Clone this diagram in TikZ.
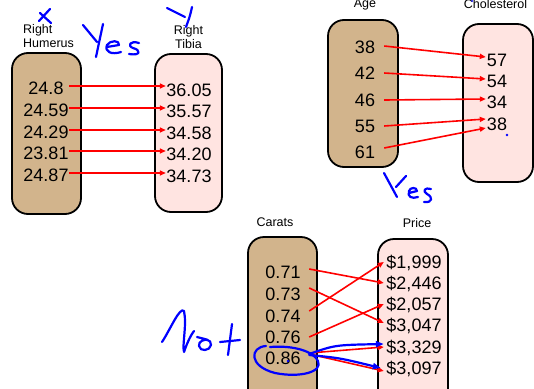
\documentclass[tikz,border=0pt]{standalone}
\usepackage{fontspec}
\setmainfont{Liberation Sans}
\usetikzlibrary{arrows.meta}
\definecolor{boxtan}{RGB}{210,180,140}
\definecolor{boxpink}{RGB}{255,228,225}
\definecolor{penblue}{RGB}{0,0,255}
\begin{document}
\begin{tikzpicture}[x=1pt,y=-1pt,
  setbox/.style={draw=black,line width=1.8pt,rounded corners=16pt,inner sep=0pt},
  val/.style={font=\fontsize{18}{20}\selectfont,inner sep=0pt,text height=13pt,text depth=0pt},
  lab/.style={font=\fontsize{12.5}{14}\selectfont,inner sep=0pt,align=center},
  link/.style={red,line width=1.6pt,-{Triangle[length=6pt,width=5pt]}},
  ink/.style={penblue,line width=2.2pt,line cap=round,line join=round},
  inkarrow/.style={ink,-{Triangle[length=8pt,width=6pt]}},
]
\useasboundingbox (0,0) rectangle (534,388);
\clip (0,0) rectangle (534,388);

% ---------- Humerus / Tibia ----------
\node[setbox,fill=boxtan,minimum width=69pt,minimum height=161pt] (hbox) at (46.5,133.5) {};
\node[setbox,fill=boxpink,minimum width=67pt,minimum height=158pt] (tbox) at (188.5,133) {};
\node[lab,align=left,anchor=west] (hlab) at (23,36) {Right\\Humerus};
\node[lab] (tlab) at (188.5,37) {Right\\Tibia};

\foreach \n/\v/\y in {1/24.8/88,2/24.59/110,3/24.29/132,4/23.81/153,5/24.87/175}
  \node[val,minimum width=46pt] (h\n) at (46,\y) {\v};
\foreach \n/\v/\y in {1/36.05/90,2/35.57/111,3/34.58/133,4/34.20/154,5/34.73/176}
  \node[val,minimum width=46pt] (t\n) at (189,\y) {\v};
\foreach \n in {1,...,5}
  \draw[link] ([yshift=2pt]h\n.east) -- ([yshift=2pt]h\n.east -| t\n.west);

% ---------- Age / Cholesterol ----------
\node[setbox,fill=boxtan,minimum width=70pt,minimum height=147pt] (abox) at (363,93.5) {};
\node[setbox,fill=boxpink,minimum width=70pt,minimum height=158pt] (cbox) at (498,103) {};
\node[lab,anchor=base] (alab) at (365,7) {Age};
\node[lab,anchor=base] (clab) at (495.5,9) {Cholesterol};

\foreach \n/\v/\y in {1/38/47,2/42/73,3/46/100,4/55/126,5/61/152}
  \node[val,minimum width=38pt] (a\n) at (365,\y) {\v};
\foreach \n/\v/\y in {1/57/60,2/54/81,3/34/102,4/38/124}
  \node[val,minimum width=22pt] (c\n) at (497,\y) {\v};
\draw[link] ([yshift=1pt]a1.east) -- ([yshift=3pt]c1.west);
\draw[link] (a2.east) -- ([yshift=2pt]c2.west);
\draw[link] (a3.east) -- ([yshift=3pt]c3.west);
\draw[link] (a4.east) -- ([yshift=5pt]c4.west);
\draw[link] ([yshift=4pt]a5.east) -- ([yshift=-4pt]c4.west);

% ---------- Carats / Price ----------
\node[setbox,fill=boxtan,minimum width=69pt,minimum height=180pt] (kbox) at (282.5,327) {};
\node[setbox,fill=boxpink,minimum width=70pt,minimum height=180pt] (pbox) at (413,329) {};
\node[lab] (klab) at (275,222) {Carats};
\node[lab] (plab) at (417,223) {Price};

\foreach \n/\v/\y in {1/0.71/272,2/0.73/294,3/0.74/316,4/0.76/337,5/0.86/358}
  \node[val,minimum width=52pt] (k\n) at (283,\y) {\v};
\foreach \n/\v/\y in {1/{\$1,999}/262,2/{\$2,446}/283,3/{\$2,057}/304,4/{\$3,047}/325,5/{\$3,329}/347,6/{\$3,097}/368}
  \node[val,minimum width=60pt] (p\n) at (414,\y) {\v};
\draw[link] ([yshift=3pt]k1.east) -- (p2.west);
\draw[link] ([yshift=6pt]k2.east) -- ([yshift=2pt]p4.west);
\draw[link] ([yshift=5pt]k3.east) -- (p1.west);
\draw[link] (k4.east) -- (p3.west);
\draw[link] ([yshift=5pt]k5.east) -- (p5.west);
\draw[link] ([yshift=4pt]k5.east) -- ([yshift=-3pt]p6.west);

% ---------- pen annotations ----------
% X and Y over the first pair
\draw[ink] (50,9) -- (39,21);
\draw[ink] (40,13) -- (51,23);
\draw[ink] (167,8) -- (185,17);
\draw[ink] (192,7) .. controls (190,16) .. (186,27);
% Yes
\draw[ink] (83,25) -- (97,42);
\draw[ink] (103,24) .. controls (100,38) .. (96,57);
\draw[ink] (107,47) -- (119,45) .. controls (120,40) and (110,40) .. (107,45)
  .. controls (104,52) and (112,55) .. (121,52);
\draw[ink] (139,43) .. controls (130,40) and (127,46) .. (133,48)
  .. controls (141,50) and (141,56) .. (129,54);
% Yes under the second pair
\draw[ink] (384,173) -- (397,197);
\draw[ink] (406,176) -- (396,187);
\draw[ink] (409,193) -- (417,191) .. controls (417,187) and (410,187) .. (409,191)
  .. controls (407,197) and (412,199) .. (418,197);
\draw[ink] (431,189) .. controls (425,187) and (422,191) .. (427,194)
  .. controls (433,197) and (433,203) .. (424,202);
% Not
\draw[ink] (162,342) .. controls (170,330) and (180,306) .. (184,311)
  .. controls (187,325) and (182,345) .. (184,352)
  .. controls (186,346) and (190,336) .. (194,331);
\draw[ink] (197,337) .. controls (203,339) and (212,339) .. (211,345)
  .. controls (210,351) and (200,352) .. (199,346)
  .. controls (198,341) and (205,339) .. (208,340);
\draw[ink] (232,324) -- (228,355);
\draw[ink] (220,342) -- (240,340);
% circled 0.86 and its two pen arrows
\draw[ink] (266,346) .. controls (250,347) and (248,366) .. (275,373)
  .. controls (300,378) and (323,372) .. (318,361)
  .. controls (314,352) and (295,345) .. (270,347);
\draw[inkarrow] ([yshift=4pt]k5.east) .. controls (335,345) .. ([yshift=3pt]p5.west);
\draw[inkarrow] ([yshift=3pt]k5.east) .. controls (340,358) .. ([xshift=-3pt]p6.west);
% stray pen dots
\fill[penblue] (288,361) circle (1.4pt);
\fill[penblue] (507,135) circle (1.4pt);
\fill[penblue] (472,1) circle (1pt);
\end{tikzpicture}
\end{document}
